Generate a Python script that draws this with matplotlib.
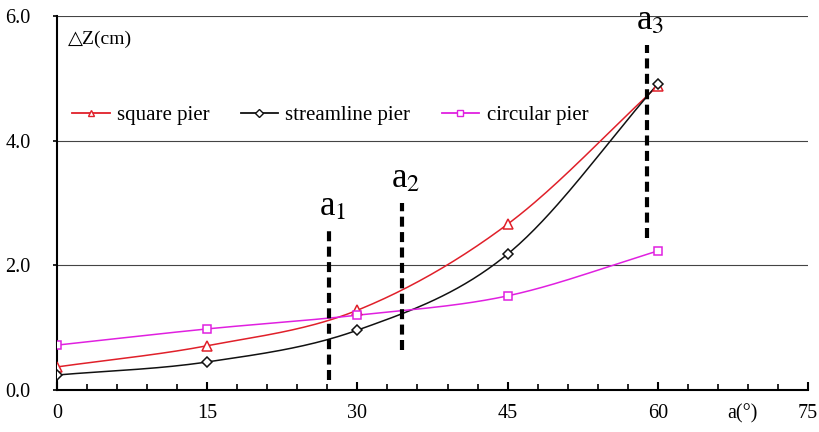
import numpy as np
import matplotlib
matplotlib.use("Agg")
import matplotlib.pyplot as plt
from matplotlib.ticker import MultipleLocator

plt.rcParams['font.family'] = ['Liberation Serif', 'DejaVu Sans']
plt.rcParams['mathtext.fontset'] = 'stix'

angles = [0, 15, 30, 45, 60]
square = [0.37, 0.71, 1.28, 2.66, 4.88]
streamline = [0.24, 0.45, 0.96, 2.18, 4.91]
circular = [0.72, 0.98, 1.20, 1.51, 2.23]

marks_x = [27.2, 34.5, 58.9]
marks_y0 = [0.16, 0.64, 2.44]
marks_y1 = [2.56, 3.0, 5.54]
mark_labels = ["a$_1$", "a$_2$", "a$_3$"]


def smooth(x, y, n=40):
    x = np.asarray(x, float); y = np.asarray(y, float)
    P = np.column_stack([x, y])
    P = np.vstack([2 * P[0] - P[1], P, 2 * P[-1] - P[-2]])
    out = []
    for i in range(1, len(P) - 2):
        p0, p1, p2, p3 = P[i - 1], P[i], P[i + 1], P[i + 2]
        t = np.linspace(0, 1, n)[:, None]
        seg = 0.5 * ((2 * p1) + (-p0 + p2) * t + (2 * p0 - 5 * p1 + 4 * p2 - p3) * t ** 2
                     + (-p0 + 3 * p1 - 3 * p2 + p3) * t ** 3)
        out.append(seg if i == 1 else seg[1:])
    S = np.vstack(out)
    return S[:, 0], S[:, 1]


fig = plt.figure(figsize=(8.19, 4.32), dpi=100)
ax = fig.add_axes([57 / 819, 1 - 390 / 432, (808 - 57) / 819, (390 - 16) / 432])

series = [("square pier", square, "#e0202a", "^", 7, 5),
          ("streamline pier", streamline, "#111111", "D", 5, 4),
          ("circular pier", circular, "#e020e0", "s", 6, 5)]
for name, vals, col, mk, ms, lms in series:
    sx, sy = smooth(angles, vals)
    ax.plot(sx, sy, color=col, lw=1.1, zorder=3)
    ax.plot(angles, vals, linestyle='none', marker=mk, ms=ms, mfc='white', mec=col, mew=1.1, zorder=4)
    ax.plot([], [], color=col, lw=1.3, marker=mk, ms=lms, mfc='white', mec=col, label=name)

for xm, y0, y1, lab in zip(marks_x, marks_y0, marks_y1, mark_labels):
    ax.plot([xm, xm], [y0, y1], color='black', lw=3, linestyle=(0, (2.4, 1.3)), zorder=5)
    ax.text(xm + 0.35, y1 + 0.12, lab, fontsize=25, ha='center', va='bottom', zorder=6)

ax.set_xlim(0, 75)
ax.set_ylim(0, 6)
for yg in [2, 4, 6]:
    ax.axhline(yg, color='#444444', lw=0.8, zorder=1)

ax.spines['right'].set_visible(False)
ax.spines['top'].set_visible(False)
ax.spines['left'].set_linewidth(1.5)
ax.spines['bottom'].set_linewidth(1.5)

ax.xaxis.set_major_locator(MultipleLocator(15))
ax.xaxis.set_minor_locator(MultipleLocator(3))
ax.set_xticklabels([])
ax.tick_params(axis='x', which='major', direction='in', length=6, width=1.5)
ax.tick_params(axis='x', which='minor', direction='in', length=4, width=1.2)
for v in [0, 15, 30, 45, 60, 75]:
    ax.text(v, -0.22, str(v), ha='center', va='top', fontsize=14.5, clip_on=False)
ax.text(68.5, -0.22, "a(°)", ha='center', va='top', fontsize=14.5, clip_on=False)

ax.set_yticks([0, 2, 4, 6])
ax.set_yticklabels(["0.0", "2.0", "4.0", "6.0"], fontsize=14.5)
ax.tick_params(axis='y', direction='out', length=3, width=1.2, pad=16)

ax.text(1.1, 5.62, "△Z(cm)", fontsize=14, ha='left', va='center')

ax.legend(loc='center left', bbox_to_anchor=(0.02, 0.735), ncol=3, frameon=False, fontsize=15,
          handlelength=1.8, columnspacing=1.5, handletextpad=0.35, borderpad=0, borderaxespad=0)

fig.savefig("out.png", dpi=100)
